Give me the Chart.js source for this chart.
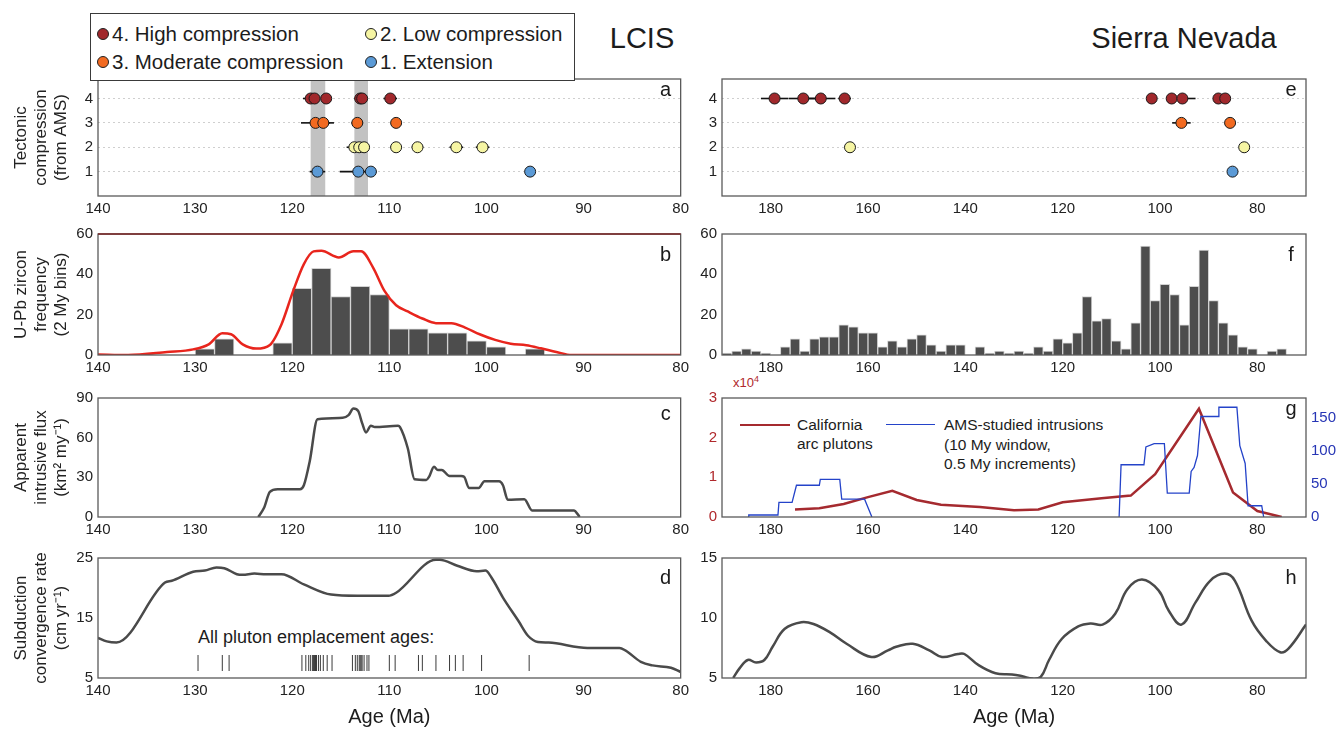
<!DOCTYPE html>
<html><head><meta charset="utf-8"><title>LCIS vs Sierra Nevada</title>
<script src="https://cdn.jsdelivr.net/npm/chart.js@4.4.1/dist/chart.umd.min.js"></script>
<style>
html,body{margin:0;padding:0;background:#fff}
body{position:relative;width:1338px;height:729px;overflow:hidden;font-family:"Liberation Sans",Arial,sans-serif;color:#1c1c1c}
canvas{position:absolute}
.tx{position:absolute;white-space:nowrap;line-height:1}
#legend{position:absolute;left:90px;top:13px;width:485px;height:68px;border:1px solid #3a3a3a;background:#fff;z-index:5;box-sizing:border-box}
.li{position:absolute;font-size:20.5px;white-space:nowrap;line-height:22px;display:flex;align-items:center}
.dot{display:inline-block;width:10px;height:10px;border-radius:50%;border:1px solid #222;margin-right:3px}
</style></head><body>

<div id="legend">
  <div class="li" style="left:6px;top:9px"><span class="dot" style="background:#a1282c"></span>4. High compression</div>
  <div class="li" style="left:6px;top:37px"><span class="dot" style="background:#f26a21"></span>3. Moderate compression</div>
  <div class="li" style="left:274px;top:9px"><span class="dot" style="background:#f6f5a3"></span>2. Low compression</div>
  <div class="li" style="left:274px;top:37px"><span class="dot" style="background:#5b9ad6"></span>1. Extension</div>
</div>
<div class="tx" style="left:562px;top:24px;width:160px;text-align:center;font-size:29px">LCIS</div>
<div class="tx" style="left:1034px;top:24px;width:300px;text-align:center;font-size:29px">Sierra Nevada</div>
<div class="tx" style="left:198px;top:628px;font-size:18px">All pluton emplacement ages:</div>
<div class="tx" style="left:733px;top:375px;font-size:13px;color:#b0282c">x10<sup style="font-size:9px">4</sup></div>
<div class="tx" style="left:740px;top:424px;width:50px;height:0;border-top:2.5px solid #a52a2f"></div>
<div class="tx" style="left:797px;top:415px;font-size:15.5px;line-height:19px">California<br>arc plutons</div>
<div class="tx" style="left:886px;top:424px;width:49px;height:0;border-top:1.3px solid #2443c9"></div>
<div class="tx" style="left:944px;top:415px;font-size:15.5px;line-height:19.5px">AMS-studied intrusions<br>(10 My window,<br>0.5 My increments)</div>

<script>
// ================= DATA =================
const lcisTicks = [140, 130, 120, 110, 100, 90, 80];
const sierraTicks = [180, 160, 140, 120, 100, 80];

// (a) LCIS – AMS-derived tectonic regime (age Ma, error half-width My)
const lcisHighAge = [118.1, 117.7, 116.5, 113.0, 112.8, 109.9];
const lcisHighErr = [0.8, 0.4, 0.5, 0.6, 0.5, 0.7];
const lcisModAge = [117.6, 116.8, 113.3, 109.3];
const lcisModErr = [1.5, 1.1, 0.6, 0.5];
const lcisLowAge = [113.6, 113.1, 112.6, 109.3, 107.1, 103.1, 100.4];
const lcisLowErr = [0.8, 0.5, 0.5, 0.6, 0.6, 0.7, 0.7];
const lcisExtAge = [117.4, 113.2, 111.9, 95.5];
const lcisExtErr = [0.8, 1.9, 0.5, 0.4];
const lcisFlareUps = [[118.1, 116.6], [113.6, 112.2]];

// (e) Sierra Nevada – AMS-derived tectonic regime
const sierraHighAge = [179.2, 173.3, 169.7, 164.8, 101.7, 97.6, 95.4, 88.0, 86.6];
const sierraHighErr = [2.8, 3.0, 3.0, 1.3, 0, 0, 2.7, 0, 0];
const sierraModAge = [95.6, 85.6];
const sierraModErr = [1.9, 0];
const sierraLowAge = [163.7, 82.7];
const sierraLowErr = [1.0, 0];
const sierraExtAge = [85.1];
const sierraExtErr = [0];

// (b) LCIS U-Pb zircon frequency, 2 My bins (bin centres)
const lcisBinAge = [139,137,135,133,131,129,127,125,123,121,119,117,115,113,111,109,107,105,103,101,99,97,95,93,91,89,87,85,83,81];
const lcisZirconCount = [0,0,0,0,0,3,8,0,0,6,33,43,29,34,30,13,13,11,11,7,4,0,3,0,0,0,0,0,0,0];
const lcisKdeAge = [140,136.9,132.9,130.2,128.6,127.2,126.3,125.1,123.7,122.3,121.1,119.9,118.8,117.8,117.0,115.2,113.7,112.9,111.7,110.5,109.3,108.1,106.6,105.2,103.6,102.2,100.7,99.1,97.5,95.9,94.4,92.8,91.2,80];
const lcisKdeVal = [0.3,0,1.5,2.8,5.3,10.8,10.3,5.3,3.2,5.0,15.3,31.8,45.1,51.4,51.7,48.4,51.4,51.4,43.6,31.8,24.7,21.6,18.1,15.8,15.8,13.6,10.3,7.5,5.6,4.8,3.3,1.5,0,0];

// (f) Sierra Nevada U-Pb zircon frequency, 2 My bins
const sierraBinAge = [189,187,185,183,181,179,177,175,173,171,169,167,165,163,161,159,157,155,153,151,149,147,145,143,141,139,137,135,133,131,129,127,125,123,121,119,117,115,113,111,109,107,105,103,101,99,97,95,93,91,89,87,85,83,81,79,77,75,73,71];
const sierraZirconCount = [1,2,3,2,1,0,4,8,2,8,9,9,15,14,11,11,4,7,4,8,10,5,2,5,5,0,4,1,2,1,2,1,4,2,8,6,11,29,17,18,7,3,16,54,27,35,30,15,34,52,27,16,10,4,3,0,2,3,0,0];

// (c) LCIS apparent intrusive flux (km2/My)
const fluxAge = [123.5,122.9,122.3,121.5,119.2,118.8,118.2,117.4,114.8,114.2,113.7,113.2,112.8,112.4,111.9,111.5,109.1,108.9,108.1,107.4,106.2,105.9,105.4,105.0,104.6,103.8,102.6,102.3,101.8,100.8,100.2,98.7,98.3,97.8,96.1,95.3,91.0,90.4];
const fluxVal = [0,7,19,21,21,24,42,74,75,77,82,80,71,64,69,68,69,68,52,28.5,28,30.5,38,35.5,35.5,31,31,30.5,22,22,27,27,24,13,13.5,5,5,0];

// (g) Sierra Nevada: California arc pluton flux (x10^4) and AMS-studied intrusions
const calArcAge = [175,170,165,160,155,150,145,137,130,125,120,112,106,101,92,85,80,75];
const calArcFlux = [0.19,0.22,0.33,0.50,0.66,0.43,0.31,0.25,0.17,0.19,0.37,0.47,0.54,1.08,2.73,0.62,0.15,0.0];
const amsAge = [184.5,184.5,178.5,178.3,175.6,174.7,170.0,169.8,165.8,165.4,160.7,159.2,130,108.4,108.0,103.3,102.9,101.2,99.1,98.5,94.0,93.6,93.0,92.3,91.6,88.0,87.9,84.2,83.6,82.5,81.9,79.1,78.7];
const amsCount = [0,3,3,22,22,48,48,57,57,27,27,0,null,0,79,79,106,111,111,36,36,69,75,93,152,152,166,166,108,81,17,17,0];

// (d) LCIS subduction convergence rate (cm/yr) and pluton emplacement ages
const convAge = [140,139.1,138.1,133.1,132.4,130.2,129.0,127.8,127.0,125.7,125.1,123.9,122.7,121.1,118.8,116.0,113.3,110.1,109.3,105.2,104.8,103.0,101.0,100.1,99.5,98.3,96.7,95.7,94.7,93.6,89.6,86.3,85.7,84.1,82.9,81.0,80];
const convRate = [11.7,11.1,10.9,20.9,21.2,22.7,22.9,23.4,23.3,22.3,22.2,22.4,22.3,22.3,20.6,18.9,18.7,18.7,19.2,24.7,24.7,23.7,22.8,22.9,21.8,18.4,14.5,12.0,11.0,10.9,10.0,10.0,9.6,7.7,7.1,6.7,6.0];
const plutonAges = [129.7,127.2,126.5,119.0,118.6,118.3,118.1,117.9,117.8,117.7,117.6,117.5,117.3,117.1,116.8,116.4,115.9,113.8,113.5,113.3,113.1,113.0,112.9,112.8,112.6,112.3,112.1,110.0,109.4,107.0,106.6,105.2,103.8,103.2,102.4,100.5,95.6];

// (h) Sierra Nevada subduction convergence rate
const sierraConvAge = [187.7,186.4,184.7,183.0,181.3,179.6,177.1,173.7,171.2,167.8,164.4,159.3,155.9,154.2,150.8,147.4,144.8,141.5,140.2,137.2,133.8,130.4,128.3,126.2,124.5,122.8,120.2,116.8,114.3,111.8,109.2,106.7,103.7,100.3,98.2,95.6,92.7,89.7,86.7,84.6,81.2,78.2,75.3,73.6,70.0];
const sierraConvRate = [5.0,5.8,6.5,6.3,6.5,7.6,9.1,9.65,9.5,8.8,7.85,6.75,7.3,7.6,7.85,7.3,6.75,7.0,7.0,6.05,5.4,5.3,5.15,4.95,5.1,6.5,8.25,9.3,9.55,9.45,10.35,12.4,13.2,12.3,10.6,9.45,11.3,13.1,13.7,13.1,9.8,8.1,7.15,7.45,9.45];

// ================= STYLE =================
const C_HIGH = '#a1282c', C_MOD = '#f26a21', C_LOW = '#f6f5a3', C_EXT = '#5b9ad6';
const C_DARK = '#4a4a4a', C_KDE = '#e8251d', C_CAL = '#a52a2f', C_AMS = '#2443c9';
const FONT = '"Liberation Sans", Arial, sans-serif';

Chart.defaults.font.family = FONT;
Chart.defaults.font.size = 15;
Chart.defaults.color = '#1e1e1e';
Chart.defaults.animation = false;
Chart.defaults.events = [];
Chart.defaults.plugins.legend.display = false;
Chart.defaults.plugins.tooltip.enabled = false;

const boxPlugin = {
  id: 'box',
  afterDraw(chart, args, o) {
    const a = chart.chartArea, c = chart.ctx;
    c.save();
    c.lineWidth = 1.3;
    c.strokeStyle = '#5a5a5a';
    c.strokeRect(a.left, a.top, a.right - a.left, a.bottom - a.top);
    if (o && o.topColor) {
      c.strokeStyle = o.topColor; c.beginPath(); c.moveTo(a.left, a.top); c.lineTo(a.right, a.top); c.stroke();
    }
    if (o && o.letter) {
      c.fillStyle = '#1a1a1a'; c.font = '20px ' + FONT; c.textAlign = 'center'; c.textBaseline = 'middle';
      c.fillText(o.letter, a.right - 15, a.top + (o.dy || 12));
    }
    c.restore();
  }
};
const amsPlugin = {
  id: 'ams',
  beforeDatasetsDraw(chart, args, o) {
    if (!o || !o.rows) return;
    const xs = chart.scales.x, ys = chart.scales.y, c = chart.ctx, a = chart.chartArea;
    c.save();
    (o.bands || []).forEach(b => {
      const p0 = xs.getPixelForValue(b[0]), p1 = xs.getPixelForValue(b[1]);
      c.fillStyle = '#c2c2c2';
      c.fillRect(Math.min(p0, p1), a.top, Math.abs(p1 - p0), a.bottom - a.top);
    });
    c.strokeStyle = '#111'; c.lineWidth = 1.6;
    o.rows.forEach(r => r.ages.forEach((v, i) => {
      const e = r.errs[i]; if (!e) return;
      const y = ys.getPixelForValue(r.level);
      c.beginPath(); c.moveTo(xs.getPixelForValue(v - e), y); c.lineTo(xs.getPixelForValue(v + e), y); c.stroke();
    }));
    c.restore();
  }
};
Chart.register(boxPlugin, amsPlugin);

function mk(left, top, w, h, cfg) {
  const cv = document.createElement('canvas');
  cv.width = w; cv.height = h;
  cv.style.left = left + 'px'; cv.style.top = top + 'px';
  cv.style.width = w + 'px'; cv.style.height = h + 'px';
  document.body.appendChild(cv);
  cfg.options = Object.assign({ responsive: false, maintainAspectRatio: false, animation: false, devicePixelRatio: 1 }, cfg.options);
  return new Chart(cv, cfg);
}
function xScale(min, max, ticks, height, title) {
  return {
    type: 'linear', reverse: true, min, max, offset: false,
    grid: { display: false, drawTicks: false },
    border: { display: false },
    ticks: { color: '#222', padding: 4, maxRotation: 0, autoSkip: false, font: { size: 15 } },
    title: title ? { display: true, text: title, font: { size: 20 }, color: '#1c1c1c', padding: { top: 0, bottom: 0 } } : { display: false },
    afterBuildTicks: s => { s.ticks = ticks.map(v => ({ value: v })); },
    afterFit: s => { s.height = height; }
  };
}
function yScale(min, max, ticks, o) {
  return {
    type: 'linear', position: o.position || 'left', min, max,
    grid: o.dotted ? { display: true, drawTicks: false, color: '#cfcfcf', lineWidth: 1 } : { display: false, drawTicks: false },
    border: o.dotted ? { display: false, dash: [2, 3] } : { display: false },
    ticks: { color: o.color || '#222', padding: 5, font: { size: 15 } },
    title: o.title ? { display: true, text: o.title, font: { size: 17, lineHeight: 1.15 }, color: '#222', padding: { top: 12, bottom: 0 } } : { display: false },
    afterBuildTicks: s => { s.ticks = ticks.map(v => ({ value: v })); },
    afterFit: s => { s.width = o.width; }
  };
}
function pts(ages, vals) { return ages.map((a, i) => ({ x: a, y: vals[i] })); }
function lineSet(ages, vals, color, width, extra) {
  return Object.assign({ type: 'scatter', showLine: true, data: pts(ages, vals), borderColor: color, borderWidth: width,
    pointRadius: 0, cubicInterpolationMode: 'monotone', fill: false }, extra || {});
}
function classSets(rows) {
  return rows.map(r => ({ type: 'scatter', data: r.ages.map(a => ({ x: a, y: r.level })),
    backgroundColor: r.color, borderColor: '#1a1a1a', borderWidth: 1, pointRadius: 5.5 }));
}
function barSet(ages, counts) {
  return { type: 'bar', order: 1, data: ages.map((a, i) => ({ x: a, y: counts[i] ? counts[i] : null })),
    backgroundColor: '#4d4d4d', borderColor: '#d2d2d2', borderWidth: 1, barPercentage: 1, categoryPercentage: 1 };
}

const lcisRows = [
  { level: 4, ages: lcisHighAge, errs: lcisHighErr, color: C_HIGH },
  { level: 3, ages: lcisModAge, errs: lcisModErr, color: C_MOD },
  { level: 2, ages: lcisLowAge, errs: lcisLowErr, color: C_LOW },
  { level: 1, ages: lcisExtAge, errs: lcisExtErr, color: C_EXT }
];
const sierraRows = [
  { level: 4, ages: sierraHighAge, errs: sierraHighErr, color: C_HIGH },
  { level: 3, ages: sierraModAge, errs: sierraModErr, color: C_MOD },
  { level: 2, ages: sierraLowAge, errs: sierraLowErr, color: C_LOW },
  { level: 1, ages: sierraExtAge, errs: sierraExtErr, color: C_EXT }
];

const PAD_L = { top: 8, right: 12, left: 0, bottom: 0 };
const PAD_R = { top: 8, right: 32, left: 0, bottom: 0 };

// ---- (a)
mk(0, 65, 693, 157, { type: 'scatter', data: { datasets: classSets(lcisRows) }, options: {
  layout: { padding: PAD_L },
  scales: { x: xScale(80, 140, lcisTicks, 26), y: yScale(0, 4.8, [1, 2, 3, 4], { width: 98, dotted: true, title: ['Tectonic', 'compression', '(from AMS)'] }) },
  plugins: { ams: { rows: lcisRows, bands: lcisFlareUps }, box: { letter: 'a', dy: 11 } } } });
// ---- (e)
mk(690, 65, 648, 157, { type: 'scatter', data: { datasets: classSets(sierraRows) }, options: {
  layout: { padding: PAD_R },
  scales: { x: xScale(70, 190, sierraTicks, 26), y: yScale(0, 4.8, [1, 2, 3, 4], { width: 32, dotted: true }) },
  plugins: { ams: { rows: sierraRows }, box: { letter: 'e', dy: 11 } } } });
// ---- (b)
mk(0, 220, 693, 161, { type: 'bar', data: { datasets: [
    lineSet(lcisKdeAge, lcisKdeVal, C_KDE, 2.5, { type: 'line', order: 0 }),
    barSet(lcisBinAge, lcisZirconCount) ] }, options: {
  layout: { padding: PAD_L },
  scales: { x: xScale(80, 140, lcisTicks, 26), y: yScale(0, 60, [0, 20, 40, 60], { width: 98, title: ['U-Pb zircon', 'frequency', '(2 My bins)'] }) },
  plugins: { box: { letter: 'b', dy: 21, topColor: '#7a2424' } } } });
// ---- (f)
mk(690, 220, 648, 161, { type: 'bar', data: { datasets: [ barSet(sierraBinAge, sierraZirconCount) ] }, options: {
  layout: { padding: PAD_R },
  scales: { x: xScale(70, 190, sierraTicks, 26), y: yScale(0, 60, [0, 20, 40, 60], { width: 32 }) },
  plugins: { box: { letter: 'f', dy: 21 } } } });
// ---- (c)
mk(0, 384, 693, 159, { type: 'scatter', data: { datasets: [ lineSet(fluxAge, fluxVal, C_DARK, 2.5) ] }, options: {
  layout: { padding: PAD_L },
  scales: { x: xScale(80, 140, lcisTicks, 26), y: yScale(0, 90, [0, 30, 60, 90], { width: 98, title: ['Apparent', 'intrusive flux', '(km\u00B2 my\u207B\u00B9)'] }) },
  plugins: { box: { letter: 'c', dy: 16 } } } });
// ---- (g)
mk(690, 384, 648, 159, { type: 'scatter', data: { datasets: [
    lineSet(amsAge, amsCount, C_AMS, 1.3, { yAxisID: 'y2', cubicInterpolationMode: 'default', tension: 0, spanGaps: false }),
    lineSet(calArcAge, calArcFlux, C_CAL, 2.5, { yAxisID: 'y', cubicInterpolationMode: 'default', tension: 0 }) ] }, options: {
  layout: { padding: { top: 8, right: 0, left: 0, bottom: 0 } },
  scales: { x: xScale(70, 190, sierraTicks, 26),
    y: yScale(0, 3, [0, 1, 2, 3], { width: 32, color: '#b0282c' }),
    y2: yScale(0, 180, [0, 50, 100, 150], { width: 32, color: '#2635b5', position: 'right' }) },
  plugins: { box: { letter: 'g', dy: 11 } } } });
// ---- (d)
mk(0, 544, 693, 185, { type: 'scatter', data: { datasets: [
    lineSet(convAge, convRate, C_DARK, 2.5),
    { type: 'scatter', data: plutonAges.map(a => ({ x: a, y: 7.5 })), pointStyle: 'line', rotation: 90, pointRadius: 8,
      borderColor: '#3a3a3a', borderWidth: 1, backgroundColor: '#3a3a3a' } ] }, options: {
  layout: { padding: PAD_L },
  scales: { x: xScale(80, 140, lcisTicks, 51, 'Age (Ma)'), y: yScale(5, 25, [5, 15, 25], { width: 98, title: ['Subduction', 'convergence rate', '(cm yr\u207B\u00B9)'] }) },
  plugins: { box: { letter: 'd', dy: 20 } } } });
// ---- (h)
mk(690, 544, 648, 185, { type: 'scatter', data: { datasets: [ lineSet(sierraConvAge, sierraConvRate, C_DARK, 2.5, { cubicInterpolationMode: 'default', tension: 0.4 }) ] }, options: {
  layout: { padding: PAD_R },
  scales: { x: xScale(70, 190, sierraTicks, 51, 'Age (Ma)'), y: yScale(5, 15, [5, 10, 15], { width: 32 }) },
  plugins: { box: { letter: 'h', dy: 20 } } } });
</script>
</body></html>
